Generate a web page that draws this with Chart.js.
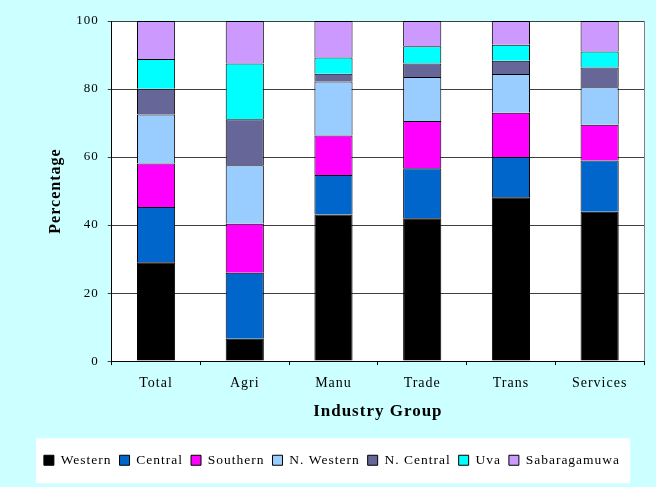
<!DOCTYPE html>
<html>
<head>
<meta charset="utf-8">
<script src="https://cdn.jsdelivr.net/npm/chart.js@4"></script>
<style>
  html, body { margin: 0; padding: 0; background: #CCFFFF; }
  #wrap { width: 656px; height: 487px; }
</style>
</head>
<body>
<div id="wrap"><canvas id="regionChart" width="656" height="487"></canvas></div>
<script>
// Share of each province within an industry group (%)
const groups = ['Total', 'Agri', 'Manu', 'Trade', 'Trans', 'Services'];
const regions = ['Western', 'Central', 'Southern', 'N. Western', 'N. Central', 'Uva', 'Sabaragamuwa'];
const western      = [29.1,  6.6, 43.1, 42.0, 48.2, 43.9];
const central      = [16.2, 19.4, 11.6, 14.7, 11.8, 15.1];
const southern     = [12.8, 14.4, 11.6, 13.9, 13.0, 10.5];
const nWestern     = [14.4, 17.2, 15.9, 12.9, 11.4, 11.0];
const nCentral     = [ 7.6, 13.5,  2.3,  4.0,  3.9,  5.8];
const uva          = [ 8.7, 16.4,  4.8,  5.1,  4.7,  4.7];
const sabaragamuwa = [11.2, 12.5, 10.7,  7.4,  7.0,  9.0];
const yTicks = [0, 20, 40, 60, 80, 100];

const colors = ['#000000', '#0066CC', '#FF00FF', '#99CCFF', '#666699', '#00FFFF', '#CC99FF'];
const series = [western, central, southern, nWestern, nCentral, uva, sabaragamuwa];

const serif = '"Liberation Serif", "Times New Roman", serif';

// the original text is set a little loose, so widen the letters everywhere
const spacing = {
    id: 'spacing',
    beforeUpdate(chart) { chart.ctx.letterSpacing = '1px'; },
    beforeDraw(chart) { chart.ctx.letterSpacing = '1px'; }
};

// paint cyan page, white plot area and white legend box
const backdrop = {
    id: 'backdrop',
    beforeDraw(chart) {
        const ctx = chart.ctx;
        const a = chart.chartArea;
        ctx.save();
        ctx.fillStyle = '#CCFFFF';
        ctx.fillRect(0, 0, chart.width, chart.height);
        ctx.fillStyle = '#FFFFFF';
        ctx.fillRect(a.left, a.top, a.right - a.left, a.bottom - a.top);
        const boxes = chart.legend.legendHitBoxes;
        if (boxes && boxes.length) {
            const first = boxes[0];
            const last = boxes[boxes.length - 1];
            const mid = first.top + first.height / 2;
            ctx.fillRect(first.left - 8, mid - 22, last.left + last.width - first.left + 18, 45);
        }
        ctx.restore();
    },
    afterDraw(chart) {
        const ctx = chart.ctx;
        const a = chart.chartArea;
        ctx.save();
        ctx.strokeStyle = '#808080';
        ctx.lineWidth = 1;
        ctx.beginPath();
        ctx.moveTo(Math.round(a.right) + 0.5, a.top);
        ctx.lineTo(Math.round(a.right) + 0.5, a.bottom);
        ctx.stroke();
        ctx.restore();
    }
};

function initChart() {
    const ctx = document.getElementById('regionChart').getContext('2d');
    new Chart(ctx, {
        type: 'bar',
        data: {
            labels: groups,
            datasets: regions.map((name, i) => ({
                label: name,
                data: series[i],
                backgroundColor: colors[i],
                borderColor: '#000000',
                borderWidth: 1,
                categoryPercentage: 1,
                barPercentage: 0.43
            }))
        },
        options: {
            responsive: false,
            animation: false,
            devicePixelRatio: 1,
            layout: { padding: { left: 20, right: 12, top: 21, bottom: 10 } },
            plugins: {
                tooltip: { enabled: false },
                legend: {
                    position: 'bottom',
                    labels: {
                        color: '#000',
                        font: { family: serif, size: 13.5 },
                        boxWidth: 10,
                        boxHeight: 10,
                        padding: 8
                    }
                }
            },
            scales: {
                x: {
                    stacked: true,
                    grid: {
                        offset: true,
                        drawOnChartArea: false,
                        drawTicks: true,
                        tickLength: 4,
                        color: '#000'
                    },
                    border: { color: '#000', width: 1 },
                    ticks: { color: '#000', font: { family: serif, size: 14, lineHeight: 1 }, padding: 11 },
                    title: {
                        display: true,
                        text: 'Industry Group',
                        color: '#000',
                        font: { family: serif, size: 17, weight: 'bold' },
                        padding: { top: 0, bottom: 24 }
                    }
                },
                y: {
                    stacked: true,
                    min: 0,
                    max: 100,
                    afterBuildTicks(axis) {
                        axis.ticks = yTicks.map(v => ({ value: v }));
                    },
                    grid: {
                        color: '#404040',
                        drawTicks: true,
                        tickLength: 4
                    },
                    border: { color: '#000', width: 1 },
                    ticks: { color: '#000', font: { family: serif, size: 13 }, padding: 9 },
                    title: {
                        display: true,
                        text: 'Percentage',
                        color: '#000',
                        font: { family: serif, size: 16, weight: 'bold' },
                        padding: { top: 26, bottom: 2 }
                    }
                }
            }
        },
        plugins: [spacing, backdrop]
    });
}

initChart();
</script>
</body>
</html>
